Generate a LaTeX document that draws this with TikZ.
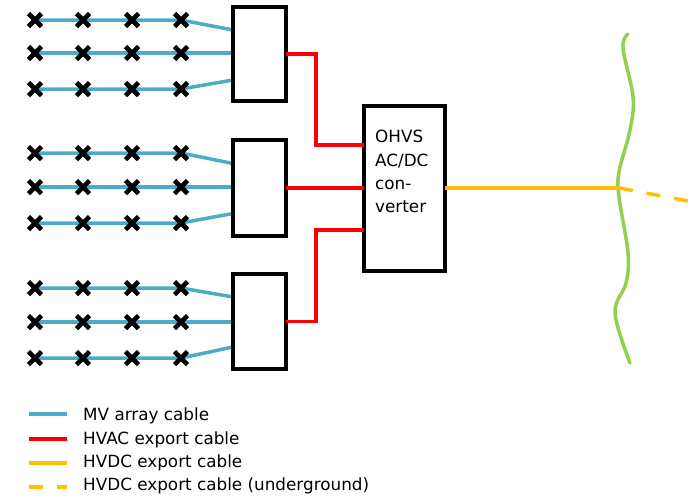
\documentclass[tikz,border=0pt]{standalone}
\usepackage{fontspec}
\setmainfont{DejaVu Sans}
\usetikzlibrary{shapes.misc,backgrounds,calc}
\definecolor{mvblue}{HTML}{4BACC6}
\definecolor{hvred}{HTML}{FF0000}
\definecolor{hvdcor}{HTML}{FFC000}
\definecolor{coastgr}{HTML}{92D050}
\tikzset{
  turbine/.style={cross out,draw=black,line width=4.6pt,minimum size=13pt,inner sep=0pt,outer sep=0pt},
  stbox/.style={draw=black,line width=4pt,fill=white,minimum width=53pt,minimum height=95pt,inner sep=0pt,outer sep=0pt},
  mv/.style={draw=mvblue,line width=3.5pt},
  hvac/.style={draw=hvred,line width=3.8pt},
  hvdc/.style={draw=hvdcor,line width=3.5pt},
  hvdcug/.style={draw=hvdcor,line width=3.5pt,dash pattern=on 14pt off 14pt},
  coast/.style={draw=coastgr,line width=3.5pt},
  lbl/.style={anchor=base west,inner sep=0pt,font=\fontsize{16.8pt}{23.3pt}\selectfont}
}
\begin{document}
\begin{tikzpicture}[x=1pt,y=-1pt]
\useasboundingbox (0,0) rectangle (695,498);
% substation boxes
\node[stbox,minimum height=94pt] (b1) at (259.5,54) {};
\node[stbox,minimum height=96pt] (b2) at (259.5,188) {};
\node[stbox,minimum height=95pt] (b3) at (259.5,321.5) {};
\node[draw=black,line width=4pt,fill=white,minimum width=81pt,minimum height=165pt,inner sep=0pt,outer sep=0pt] (conv) at (404.5,188.5) {};
\node[lbl,align=left] (convtext) at (375,212.7) {OHVS\\AC/DC\\con-\\verter};
% turbines
\foreach \g/\ya/\yb/\yc in {1/20/53/89,2/153/187/223,3/288/322/358}{
  \foreach \r/\y in {1/\ya,2/\yb,3/\yc}{
    \foreach \c/\x in {1/35,2/83,3/132,4/181}{
      \node[turbine] (t\g\r\c) at (\x,\y) {};
    }
  }
}
% connection points on boxes
\path (b1.west) ++(0,-24) coordinate (b1i1);
\path (b1.west) ++(0,-1) coordinate (b1i2);
\path (b1.west) ++(0,26) coordinate (b1i3);
\path (b2.west) ++(0,-24.5) coordinate (b2i1);
\path (b2.west) ++(0,-1) coordinate (b2i2);
\path (b2.west) ++(0,25.5) coordinate (b2i3);
\path (b3.west) ++(0,-24.5) coordinate (b3i1);
\path (b3.west) ++(0,0.5) coordinate (b3i2);
\path (b3.west) ++(0,25.5) coordinate (b3i3);
\begin{scope}[on background layer]
\foreach \g in {1,2,3}{
  \foreach \r in {1,2,3}{
    \draw[mv] (t\g\r1.center) -- (t\g\r4.center) -- (b\g i\r);
  }
}
\end{scope}
% HVAC export
\coordinate (j1) at (316,145);
\coordinate (j3) at (316,230);
\draw[hvac] (b1.east) -| (j1) -- (conv.west |- j1);
\draw[hvac] (b2.east) -- (conv.west |- b2.east);
\draw[hvac] (b3.east) -| (j3) -- (conv.west |- j3);
% coast
\draw[coast,line cap=round] plot[smooth,tension=0.6] coordinates {(628,34) (623,48) (633,97) (630,130) (619,172) (619,197) (628,253) (626,283) (615,313) (630,363)};
\coordinate (landfall) at (619,188);
\coordinate (inland) at (688,201);
\draw[hvdc] (conv.east |- landfall) -- (landfall);
\draw[hvdcug] (landfall) -- (inland);
% legend
\coordinate (l1a) at (29,414); \coordinate (l1b) at (67,414);
\coordinate (l2a) at (29,439); \coordinate (l2b) at (67,439);
\coordinate (l3a) at (29,463); \coordinate (l3b) at (67,463);
\coordinate (l4a) at (29,487); \coordinate (l4b) at (67,487);
\draw[mv] (l1a) -- (l1b);
\draw[hvac] (l2a) -- (l2b);
\draw[hvdc] (l3a) -- (l3b);
\draw[hvdcug] (l4a) -- (l4b);
\node[lbl] (t1) at (83,420.5) {MV array cable};
\node[lbl] (t2) at (83,444) {HVAC export cable};
\node[lbl] (t3) at (83,467.3) {HVDC export cable};
\node[lbl] (t4) at (83,490.5) {HVDC export cable (underground)};
\end{tikzpicture}
\end{document}
